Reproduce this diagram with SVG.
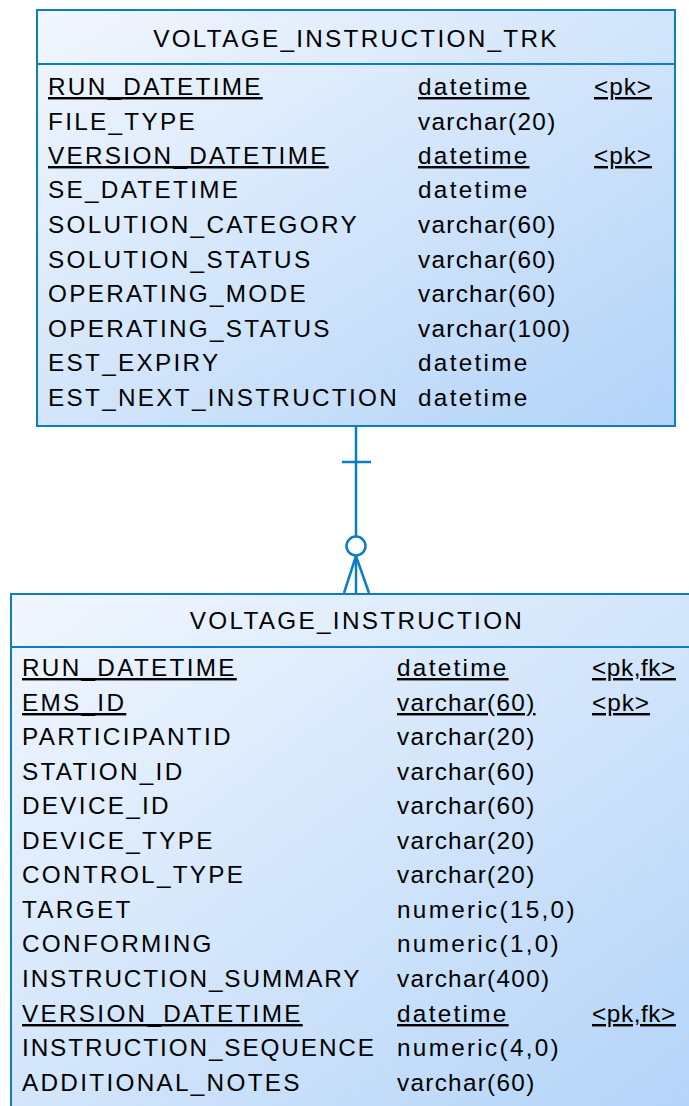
<svg xmlns="http://www.w3.org/2000/svg" width="689" height="1106" viewBox="0 0 689 1106">
<defs>
<linearGradient id="g" x1="0" y1="0" x2="1" y2="1">
<stop offset="0" stop-color="#f2f7fe"/>
<stop offset="1" stop-color="#b2d3f8"/>
</linearGradient>
<style>
.box{fill:url(#g);stroke:#0b7dc2;stroke-width:2}
.sep{stroke:#0b7dc2;stroke-width:2}
text{font-family:"Liberation Sans",Arial,sans-serif;font-size:24.3px;fill:#000;letter-spacing:2.3px}
.t{text-anchor:middle}
.u{text-decoration:underline}
.v{letter-spacing:1.3px}
.k{letter-spacing:1px}
.f{letter-spacing:0.6px}
.n{letter-spacing:1.9px}
.c{stroke:#0b7dc2;stroke-width:2.5;fill:none}
</style>
</defs>
<g id="VOLTAGE_INSTRUCTION_TRK">
<rect class="box" x="37" y="10" width="638" height="416"/>
<line class="sep" x1="37" y1="64" x2="675" y2="64"/>
<text class="t" x="356" y="47">VOLTAGE_INSTRUCTION_TRK</text>
<text class="u" x="48" y="95">RUN_DATETIME</text><text class="u" x="418" y="95">datetime</text><text class="u k" x="594" y="95">&lt;pk&gt;</text>
<text x="48" y="130">FILE_TYPE</text><text class="v" x="418" y="130">varchar(20)</text>
<text class="u" x="48" y="164">VERSION_DATETIME</text><text class="u" x="418" y="164">datetime</text><text class="u k" x="594" y="164">&lt;pk&gt;</text>
<text x="48" y="198">SE_DATETIME</text><text x="418" y="198">datetime</text>
<text x="48" y="233">SOLUTION_CATEGORY</text><text class="v" x="418" y="233">varchar(60)</text>
<text x="48" y="268">SOLUTION_STATUS</text><text class="v" x="418" y="268">varchar(60)</text>
<text x="48" y="302">OPERATING_MODE</text><text class="v" x="418" y="302">varchar(60)</text>
<text x="48" y="337">OPERATING_STATUS</text><text class="v" x="418" y="337">varchar(100)</text>
<text x="48" y="371">EST_EXPIRY</text><text x="418" y="371">datetime</text>
<text x="48" y="406">EST_NEXT_INSTRUCTION</text><text x="418" y="406">datetime</text>
</g>
<g id="VOLTAGE_INSTRUCTION">
<rect class="box" x="11" y="594" width="700" height="530"/>
<line class="sep" x1="11" y1="647" x2="689" y2="647"/>
<text class="t" x="357" y="629">VOLTAGE_INSTRUCTION</text>
<text class="u" x="22" y="676">RUN_DATETIME</text><text class="u" x="397" y="676">datetime</text><text class="u f" x="592" y="676">&lt;pk,fk&gt;</text>
<text class="u" x="22" y="711">EMS_ID</text><text class="u v" x="397" y="711">varchar(60)</text><text class="u k" x="592" y="711">&lt;pk&gt;</text>
<text x="22" y="745">PARTICIPANTID</text><text class="v" x="397" y="745">varchar(20)</text>
<text x="22" y="780">STATION_ID</text><text class="v" x="397" y="780">varchar(60)</text>
<text x="22" y="814">DEVICE_ID</text><text class="v" x="397" y="814">varchar(60)</text>
<text x="22" y="849">DEVICE_TYPE</text><text class="v" x="397" y="849">varchar(20)</text>
<text x="22" y="883">CONTROL_TYPE</text><text class="v" x="397" y="883">varchar(20)</text>
<text x="22" y="918">TARGET</text><text x="397" y="918">numeric(15,0)</text>
<text x="22" y="952">CONFORMING</text><text x="397" y="952">numeric(1,0)</text>
<text class="n" x="22" y="987">INSTRUCTION_SUMMARY</text><text class="v" x="397" y="987">varchar(400)</text>
<text class="u" x="22" y="1022">VERSION_DATETIME</text><text class="u" x="397" y="1022">datetime</text><text class="u f" x="592" y="1022">&lt;pk,fk&gt;</text>
<text class="n" x="22" y="1056">INSTRUCTION_SEQUENCE</text><text x="397" y="1056">numeric(4,0)</text>
<text x="22" y="1091">ADDITIONAL_NOTES</text><text class="v" x="397" y="1091">varchar(60)</text>
</g>
<g id="connectors">
<line class="c" x1="356" y1="427" x2="356" y2="537"/>
<line class="c" x1="342" y1="462" x2="371" y2="462"/>
<circle class="c" cx="356" cy="546" r="9.5"/>
<line class="c" x1="356" y1="556" x2="356" y2="593"/>
<line class="c" x1="356" y1="556" x2="344" y2="593"/>
<line class="c" x1="356" y1="556" x2="369" y2="593"/>
</g>
</svg>
